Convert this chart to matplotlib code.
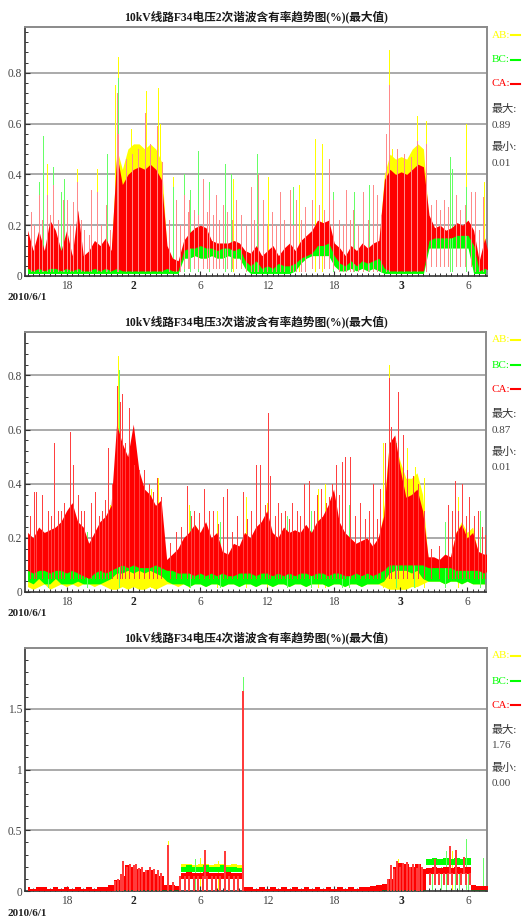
import numpy as np
import matplotlib
matplotlib.use('Agg')
import matplotlib.pyplot as plt
from matplotlib.lines import Line2D
from matplotlib.ticker import MultipleLocator, FixedLocator

plt.rcParams['font.family'] = ['Liberation Serif', 'Noto Sans CJK SC']

W, H = 531, 916
YEL, GRN, RED = '#ffff00', '#00ff00', '#ff0000'

# time axis: hours since 2010/6/1 00:00 (0.5 h grid)
hours = np.arange(14.5, 56.01, 0.5)
x_ticks = [18, 24, 30, 36, 42, 48, 54]
x_labels = ['18', '2', '6', '12', '18', '3', '6']
bold_labels = ['2', '3']

titles = ['10kV线路F34电压2次谐波含有率趋势图(%)(最大值)',
          '10kV线路F34电压3次谐波含有率趋势图(%)(最大值)',
          '10kV线路F34电压4次谐波含有率趋势图(%)(最大值)']
max_vals = ['0.89', '0.87', '1.76']
min_vals = ['0.01', '0.01', '0.00']
series_names = ['AB:', 'BC:', 'CA:']

# ---------------- panel 1 : 2nd harmonic ----------------
p1_red_hi = [0.18, 0.10, 0.18, 0.10, 0.22, 0.18, 0.10, 0.18,
             0.08, 0.26, 0.08, 0.10, 0.14, 0.12, 0.15, 0.10,
             0.48, 0.36, 0.40, 0.42, 0.43, 0.42, 0.44, 0.42,
             0.38, 0.12, 0.07, 0.06, 0.14, 0.17, 0.19, 0.20,
             0.19, 0.14, 0.13, 0.13, 0.13, 0.14, 0.13, 0.10,
             0.09, 0.12, 0.08, 0.10, 0.12, 0.08, 0.11, 0.13,
             0.10, 0.14, 0.16, 0.18, 0.22, 0.21, 0.22, 0.13,
             0.11, 0.08, 0.12, 0.10, 0.13, 0.11, 0.13, 0.14,
             0.38, 0.42, 0.40, 0.41, 0.40, 0.42, 0.44, 0.43,
             0.24, 0.19, 0.20, 0.18, 0.19, 0.21, 0.20, 0.22,
             0.18, 0.06, 0.15, 0.05]
p1_red_lo = [0.03, 0.02, 0.03, 0.02, 0.03, 0.03, 0.02, 0.03,
             0.02, 0.03, 0.02, 0.02, 0.03, 0.02, 0.03, 0.02,
             0.03, 0.02, 0.02, 0.02, 0.02, 0.02, 0.02, 0.02,
             0.02, 0.03, 0.02, 0.02, 0.10, 0.11, 0.11, 0.12,
             0.11, 0.11, 0.10, 0.11, 0.11, 0.10, 0.11, 0.06,
             0.04, 0.06, 0.03, 0.04, 0.03, 0.05, 0.04, 0.04,
             0.05, 0.07, 0.08, 0.09, 0.12, 0.12, 0.13, 0.08,
             0.05, 0.04, 0.06, 0.04, 0.06, 0.05, 0.06, 0.07,
             0.03, 0.02, 0.02, 0.02, 0.02, 0.02, 0.02, 0.02,
             0.14, 0.15, 0.15, 0.15, 0.15, 0.16, 0.16, 0.16,
             0.12, 0.02, 0.03, 0.02]
p1_yel_hi = [0.12, 0.08, 0.14, 0.08, 0.15, 0.12, 0.08, 0.12,
             0.07, 0.20, 0.07, 0.08, 0.12, 0.10, 0.12, 0.08,
             0.50, 0.42, 0.50, 0.52, 0.52, 0.50, 0.52, 0.50,
             0.45, 0.10, 0.06, 0.05, 0.12, 0.14, 0.16, 0.16,
             0.16, 0.12, 0.12, 0.12, 0.12, 0.12, 0.12, 0.08,
             0.07, 0.10, 0.07, 0.08, 0.10, 0.07, 0.09, 0.11,
             0.08, 0.12, 0.14, 0.16, 0.19, 0.18, 0.19, 0.11,
             0.09, 0.07, 0.10, 0.08, 0.11, 0.09, 0.11, 0.12,
             0.40, 0.48, 0.46, 0.47, 0.46, 0.50, 0.52, 0.50,
             0.21, 0.17, 0.18, 0.16, 0.17, 0.19, 0.18, 0.20,
             0.15, 0.05, 0.12, 0.04]
p1_yel_lo = ([0.02] * 28 + [0.08] * 12 + [0.02] * 8
             + [0.03, 0.06, 0.08, 0.09, 0.09, 0.09, 0.09, 0.05]
             + [0.03] * 8 + [0.02] * 8 + [0.12] * 8 + [0.02] * 4)
p1_grn_hi = [0.10, 0.06, 0.12, 0.06, 0.12, 0.10, 0.06, 0.10,
             0.06, 0.15, 0.06, 0.07, 0.10, 0.08, 0.10, 0.07,
             0.40, 0.30, 0.30, 0.32, 0.30, 0.30, 0.32, 0.30,
             0.25, 0.08, 0.05, 0.04, 0.12, 0.13, 0.14, 0.14,
             0.14, 0.12, 0.12, 0.12, 0.12, 0.12, 0.12, 0.08,
             0.07, 0.09, 0.07, 0.07, 0.09, 0.06, 0.08, 0.09,
             0.07, 0.10, 0.12, 0.14, 0.16, 0.15, 0.16, 0.10,
             0.08, 0.06, 0.09, 0.07, 0.10, 0.08, 0.10, 0.10,
             0.30, 0.30, 0.30, 0.30, 0.30, 0.30, 0.30, 0.30,
             0.17, 0.16, 0.17, 0.15, 0.16, 0.17, 0.17, 0.18,
             0.12, 0.04, 0.10, 0.04]
p1_grn_lo = [0.01, 0.01, 0.01, 0.01, 0.01, 0.01, 0.01, 0.01,
             0.01, 0.01, 0.01, 0.01, 0.01, 0.01, 0.01, 0.01,
             0.01, 0.01, 0.01, 0.01, 0.01, 0.01, 0.01, 0.01,
             0.01, 0.01, 0.01, 0.01, 0.07, 0.07, 0.08, 0.07,
             0.07, 0.08, 0.07, 0.07, 0.08, 0.07, 0.07, 0.03,
             0.01, 0.01, 0.01, 0.01, 0.01, 0.01, 0.01, 0.01,
             0.02, 0.05, 0.07, 0.08, 0.08, 0.08, 0.08, 0.04,
             0.02, 0.02, 0.03, 0.02, 0.03, 0.02, 0.03, 0.02,
             0.01, 0.01, 0.01, 0.01, 0.01, 0.01, 0.01, 0.01,
             0.11, 0.11, 0.11, 0.11, 0.11, 0.11, 0.11, 0.11,
             0.01, 0.01, 0.01, 0.01]
p1_red_spikes = [(14.8, 0.02, 0.25), (15.1, 0.02, 0.20), (15.5, 0.02, 0.32), (15.8, 0.02, 0.22),
                 (16.2, 0.02, 0.32), (16.5, 0.02, 0.24), (16.8, 0.02, 0.36), (17.2, 0.02, 0.22),
                 (17.7, 0.02, 0.30), (18.0, 0.02, 0.30), (18.3, 0.02, 0.20), (18.6, 0.02, 0.29),
                 (18.9, 0.02, 0.37), (19.3, 0.02, 0.22), (19.6, 0.02, 0.18), (20.0, 0.02, 0.16),
                 (20.2, 0.02, 0.34), (20.7, 0.02, 0.33), (21.1, 0.02, 0.20), (21.5, 0.02, 0.28),
                 (21.9, 0.02, 0.18), (22.5, 0.02, 0.72), (22.6, 0.02, 0.56), (23.3, 0.02, 0.46),
                 (23.9, 0.02, 0.48), (24.4, 0.02, 0.50), (25.0, 0.02, 0.64), (25.5, 0.02, 0.52),
                 (26.1, 0.02, 0.59), (26.6, 0.02, 0.45), (27.2, 0.02, 0.22), (27.8, 0.02, 0.30),
                 (28.2, 0.02, 0.20), (28.5, 0.03, 0.32), (28.9, 0.03, 0.25), (29.0, 0.03, 0.30),
                 (29.4, 0.03, 0.26), (29.8, 0.03, 0.24), (30.2, 0.03, 0.38), (30.6, 0.03, 0.25),
                 (30.8, 0.03, 0.30), (31.1, 0.03, 0.24), (31.4, 0.03, 0.32), (31.7, 0.03, 0.22),
                 (32.0, 0.03, 0.28), (32.4, 0.03, 0.25), (32.8, 0.03, 0.22), (33.2, 0.03, 0.30),
                 (33.6, 0.03, 0.24), (34.1, 0.02, 0.20), (34.5, 0.02, 0.35), (34.8, 0.02, 0.22),
                 (35.2, 0.02, 0.40), (35.6, 0.02, 0.30), (36.0, 0.02, 0.20), (36.4, 0.02, 0.25),
                 (36.8, 0.02, 0.20), (37.1, 0.02, 0.33), (37.5, 0.02, 0.22), (38.0, 0.02, 0.34),
                 (38.3, 0.02, 0.20), (38.6, 0.02, 0.30), (39.0, 0.02, 0.22), (39.4, 0.02, 0.27),
                 (40.0, 0.03, 0.30), (40.6, 0.03, 0.28), (41.1, 0.03, 0.26), (41.5, 0.03, 0.46),
                 (41.9, 0.03, 0.30), (42.4, 0.02, 0.22), (42.8, 0.02, 0.20), (43.1, 0.02, 0.34),
                 (43.4, 0.02, 0.22), (43.7, 0.02, 0.26), (44.1, 0.02, 0.20), (44.6, 0.02, 0.33),
                 (45.0, 0.02, 0.22), (45.5, 0.02, 0.36), (45.8, 0.02, 0.32), (46.2, 0.02, 0.24),
                 (46.6, 0.02, 0.56), (46.95, 0.02, 0.75), (47.6, 0.02, 0.50), (48.3, 0.02, 0.48),
                 (48.9, 0.02, 0.47), (49.4, 0.02, 0.53), (50.2, 0.02, 0.52), (50.7, 0.04, 0.28),
                 (51.1, 0.04, 0.30), (51.5, 0.04, 0.26), (51.8, 0.04, 0.30), (52.2, 0.04, 0.27),
                 (52.9, 0.04, 0.32), (53.3, 0.04, 0.26), (53.7, 0.04, 0.28), (54.3, 0.04, 0.33),
                 (54.6, 0.02, 0.33), (55.0, 0.02, 0.18), (55.3, 0.02, 0.31)]
p1_yel_spikes = [(16.2, 0.44), (18.9, 0.42), (20.7, 0.42), (22.3, 0.75), (22.6, 0.86), (23.8, 0.58),
                 (25.1, 0.73), (26.2, 0.74), (26.4, 0.60), (27.5, 0.39), (32.9, 0.38), (36.1, 0.39),
                 (38.8, 0.36), (40.3, 0.54), (40.9, 0.52), (46.95, 0.89), (47.2, 0.50), (49.4, 0.63),
                 (50.2, 0.61), (53.8, 0.60), (55.4, 0.37)]
p1_grn_spikes = [(15.5, 0.37), (15.9, 0.55), (16.8, 0.43), (17.5, 0.33), (17.8, 0.38), (21.6, 0.48),
                 (22.6, 0.78), (27.5, 0.35), (28.5, 0.40), (29.1, 0.34), (29.8, 0.49), (30.8, 0.37),
                 (32.2, 0.44), (32.7, 0.40), (35.1, 0.48), (38.3, 0.35), (41.9, 0.33), (43.8, 0.33),
                 (45.1, 0.36), (52.4, 0.47), (52.6, 0.42), (53.8, 0.35)]

# ---------------- panel 2 : 3rd harmonic ----------------
p2_red_hi = [0.22, 0.20, 0.24, 0.22, 0.23, 0.24, 0.26, 0.30,
             0.33, 0.26, 0.24, 0.18, 0.22, 0.26, 0.28, 0.32,
             0.62, 0.55, 0.50, 0.62, 0.45, 0.38, 0.36, 0.32,
             0.34, 0.12, 0.14, 0.16, 0.20, 0.22, 0.25, 0.22,
             0.26, 0.20, 0.22, 0.15, 0.14, 0.18, 0.17, 0.22,
             0.20, 0.24, 0.26, 0.30, 0.22, 0.20, 0.24, 0.22,
             0.23, 0.22, 0.25, 0.22, 0.26, 0.28, 0.32, 0.38,
             0.26, 0.22, 0.20, 0.18, 0.19, 0.20, 0.17, 0.20,
             0.28, 0.55, 0.58, 0.45, 0.35, 0.36, 0.38, 0.30,
             0.13, 0.13, 0.12, 0.14, 0.13, 0.22, 0.25, 0.20,
             0.22, 0.15, 0.14, 0.14]
p2_red_lo = [0.08, 0.07, 0.08, 0.08, 0.07, 0.08, 0.08, 0.07,
             0.08, 0.07, 0.06, 0.05, 0.07, 0.08, 0.07, 0.08,
             0.09, 0.10, 0.09, 0.10, 0.09, 0.09, 0.09, 0.10,
             0.09, 0.08, 0.08, 0.07, 0.07, 0.07, 0.06, 0.07,
             0.06, 0.07, 0.06, 0.07, 0.06, 0.06, 0.07, 0.07,
             0.07, 0.06, 0.07, 0.07, 0.06, 0.07, 0.06, 0.07,
             0.06, 0.07, 0.07, 0.06, 0.07, 0.07, 0.06, 0.07,
             0.07, 0.06, 0.06, 0.07, 0.06, 0.07, 0.06, 0.07,
             0.08, 0.10, 0.10, 0.10, 0.10, 0.10, 0.10, 0.10,
             0.09, 0.09, 0.09, 0.09, 0.09, 0.08, 0.08, 0.08,
             0.08, 0.08, 0.07, 0.08]
p2_yel_hi = [0.10, 0.10, 0.12, 0.10, 0.12, 0.12, 0.14, 0.16,
             0.16, 0.12, 0.12, 0.10, 0.12, 0.14, 0.14, 0.18,
             0.50, 0.45, 0.40, 0.50, 0.38, 0.32, 0.30, 0.28,
             0.30, 0.08, 0.10, 0.12, 0.16, 0.20, 0.25, 0.22,
             0.24, 0.16, 0.18, 0.12, 0.12, 0.15, 0.14, 0.22,
             0.16, 0.20, 0.22, 0.24, 0.18, 0.16, 0.20, 0.18,
             0.20, 0.20, 0.24, 0.20, 0.24, 0.26, 0.30, 0.34,
             0.22, 0.18, 0.16, 0.15, 0.16, 0.17, 0.15, 0.18,
             0.30, 0.55, 0.55, 0.48, 0.42, 0.42, 0.44, 0.36,
             0.12, 0.12, 0.11, 0.13, 0.12, 0.22, 0.26, 0.22,
             0.24, 0.14, 0.12, 0.14]
p2_yel_lo = [0.02, 0.01, 0.02, 0.03, 0.01, 0.02, 0.03, 0.02,
             0.03, 0.02, 0.03, 0.03, 0.02, 0.03, 0.02, 0.01,
             0.01, 0.02, 0.01, 0.02, 0.01, 0.01, 0.02, 0.01,
             0.02, 0.03, 0.03, 0.02, 0.03, 0.02, 0.03, 0.03,
             0.02, 0.03, 0.03, 0.02, 0.03, 0.03, 0.02, 0.03,
             0.03, 0.02, 0.03, 0.03, 0.02, 0.03, 0.03, 0.02,
             0.03, 0.03, 0.02, 0.03, 0.03, 0.03, 0.02, 0.03,
             0.03, 0.02, 0.03, 0.03, 0.02, 0.03, 0.03, 0.03,
             0.02, 0.01, 0.01, 0.01, 0.01, 0.02, 0.02, 0.03,
             0.04, 0.04, 0.04, 0.03, 0.04, 0.04, 0.03, 0.04,
             0.03, 0.03, 0.03, 0.02]
p2_grn_hi = [0.10, 0.09, 0.11, 0.10, 0.10, 0.11, 0.10, 0.12,
             0.11, 0.10, 0.09, 0.08, 0.10, 0.11, 0.10, 0.11,
             0.12, 0.12, 0.11, 0.12, 0.12, 0.11, 0.12, 0.11,
             0.11, 0.09, 0.10, 0.10, 0.11, 0.12, 0.11, 0.10,
             0.11, 0.10, 0.10, 0.09, 0.10, 0.10, 0.11, 0.10,
             0.10, 0.11, 0.10, 0.12, 0.10, 0.10, 0.11, 0.10,
             0.10, 0.10, 0.11, 0.10, 0.12, 0.12, 0.11, 0.12,
             0.10, 0.10, 0.09, 0.10, 0.10, 0.10, 0.09, 0.10,
             0.11, 0.12, 0.12, 0.12, 0.12, 0.12, 0.12, 0.12,
             0.10, 0.10, 0.10, 0.10, 0.10, 0.10, 0.10, 0.10,
             0.10, 0.10, 0.10, 0.10]
p2_grn_lo = [0.04, 0.03, 0.05, 0.03, 0.03, 0.05, 0.03, 0.03,
             0.03, 0.04, 0.03, 0.03, 0.03, 0.03, 0.04, 0.05,
             0.07, 0.07, 0.08, 0.07, 0.08, 0.07, 0.08, 0.07,
             0.06, 0.04, 0.03, 0.03, 0.03, 0.02, 0.03, 0.03,
             0.02, 0.03, 0.03, 0.02, 0.03, 0.03, 0.02, 0.03,
             0.03, 0.02, 0.03, 0.03, 0.02, 0.03, 0.03, 0.02,
             0.03, 0.03, 0.02, 0.03, 0.03, 0.03, 0.02, 0.03,
             0.03, 0.02, 0.03, 0.03, 0.02, 0.03, 0.03, 0.03,
             0.04, 0.07, 0.08, 0.08, 0.08, 0.07, 0.08, 0.05,
             0.04, 0.04, 0.04, 0.03, 0.04, 0.04, 0.03, 0.04,
             0.03, 0.03, 0.03, 0.03]
p2_red_spikes = [(14.7, 0.05, 0.28), (15.1, 0.05, 0.37), (15.3, 0.05, 0.37), (15.8, 0.05, 0.36),
                 (16.3, 0.05, 0.30), (16.6, 0.05, 0.28), (16.9, 0.05, 0.55), (17.2, 0.05, 0.30),
                 (17.5, 0.05, 0.30), (17.8, 0.05, 0.33), (18.3, 0.05, 0.59), (18.6, 0.05, 0.47),
                 (19.0, 0.05, 0.36), (19.3, 0.05, 0.30), (19.6, 0.05, 0.30), (20.2, 0.05, 0.33),
                 (20.6, 0.05, 0.37), (20.9, 0.05, 0.28), (21.2, 0.05, 0.30), (21.5, 0.05, 0.34),
                 (21.7, 0.05, 0.53), (22.1, 0.05, 0.40), (22.5, 0.05, 0.76), (22.8, 0.05, 0.70),
                 (23.0, 0.05, 0.73), (23.3, 0.05, 0.55), (23.6, 0.05, 0.68), (24.1, 0.05, 0.47),
                 (24.5, 0.05, 0.45), (25.0, 0.05, 0.45), (25.4, 0.05, 0.40), (25.8, 0.05, 0.37),
                 (26.1, 0.05, 0.42), (26.5, 0.05, 0.35), (27.3, 0.05, 0.18), (27.8, 0.05, 0.22),
                 (28.3, 0.05, 0.24), (28.8, 0.05, 0.39), (29.2, 0.05, 0.28), (29.5, 0.05, 0.30),
                 (29.9, 0.05, 0.29), (30.4, 0.05, 0.38), (30.8, 0.05, 0.30), (31.2, 0.05, 0.30),
                 (31.6, 0.05, 0.25), (32.1, 0.05, 0.35), (32.4, 0.05, 0.38), (32.9, 0.05, 0.22),
                 (33.3, 0.05, 0.28), (33.9, 0.05, 0.37), (34.2, 0.05, 0.27), (34.6, 0.05, 0.30),
                 (35.0, 0.05, 0.47), (35.4, 0.05, 0.47), (35.8, 0.05, 0.32), (36.1, 0.05, 0.66),
                 (36.3, 0.05, 0.43), (36.7, 0.05, 0.28), (37.0, 0.05, 0.33), (37.3, 0.05, 0.29),
                 (37.6, 0.05, 0.30), (38.0, 0.05, 0.27), (38.3, 0.05, 0.33), (38.7, 0.05, 0.30),
                 (39.0, 0.05, 0.28), (39.3, 0.05, 0.40), (39.8, 0.05, 0.41), (40.2, 0.05, 0.30),
                 (40.5, 0.05, 0.36), (40.9, 0.05, 0.38), (41.3, 0.05, 0.33), (41.6, 0.05, 0.35),
                 (41.9, 0.05, 0.40), (42.2, 0.05, 0.47), (42.5, 0.05, 0.36), (42.8, 0.05, 0.48),
                 (43.0, 0.05, 0.50), (43.5, 0.05, 0.50), (43.9, 0.05, 0.28), (44.4, 0.05, 0.33),
                 (44.8, 0.05, 0.27), (45.2, 0.05, 0.30), (45.5, 0.05, 0.40), (45.9, 0.05, 0.27),
                 (46.2, 0.05, 0.38), (46.6, 0.05, 0.55), (46.95, 0.05, 0.79), (47.2, 0.05, 0.61),
                 (47.5, 0.05, 0.57), (47.8, 0.05, 0.74), (48.2, 0.05, 0.58), (48.6, 0.05, 0.45),
                 (49.1, 0.05, 0.43), (49.6, 0.05, 0.40), (50.1, 0.05, 0.30), (50.8, 0.05, 0.16),
                 (51.5, 0.05, 0.17), (52.3, 0.05, 0.32), (52.6, 0.05, 0.30), (52.9, 0.05, 0.41),
                 (53.2, 0.05, 0.30), (53.5, 0.05, 0.40), (53.9, 0.05, 0.28), (54.2, 0.05, 0.35),
                 (54.6, 0.05, 0.28), (55.0, 0.05, 0.30), (55.3, 0.05, 0.24), (55.6, 0.05, 0.21)]
p2_yel_spikes = [(21.9, 0.32), (22.65, 0.87), (23.8, 0.40), (25.6, 0.38), (26.2, 0.42), (29.0, 0.32),
                 (31.5, 0.30), (34.1, 0.35), (36.0, 0.33), (40.6, 0.38), (41.2, 0.40), (42.8, 0.39),
                 (46.4, 0.55), (46.95, 0.84), (48.1, 0.45), (48.6, 0.53), (49.3, 0.46), (50.1, 0.42),
                 (53.2, 0.35), (55.6, 0.23)]
p2_grn_spikes = [(16.3, 0.25), (19.8, 0.22), (22.7, 0.82), (29.1, 0.30), (31.8, 0.26), (37.8, 0.28),
                 (40.0, 0.30), (42.8, 0.35), (43.4, 0.32), (47.6, 0.55), (49.2, 0.35), (52.0, 0.26),
                 (55.2, 0.30)]

# ---------------- panel 3 : 4th harmonic ----------------
p3_red_hi = [0.03, 0.02, 0.03, 0.03, 0.02, 0.03, 0.02, 0.03,
             0.02, 0.03, 0.02, 0.03, 0.02, 0.03, 0.03, 0.05,
             0.09, 0.12, 0.21, 0.20, 0.18, 0.16, 0.17, 0.14,
             0.12, 0.05, 0.05, 0.04, 0.15, 0.16, 0.15, 0.15,
             0.16, 0.15, 0.15, 0.15, 0.16, 0.15, 0.15, 0.03,
             0.03, 0.02, 0.03, 0.02, 0.03, 0.02, 0.03, 0.02,
             0.03, 0.02, 0.03, 0.02, 0.03, 0.02, 0.03, 0.02,
             0.03, 0.02, 0.03, 0.02, 0.03, 0.03, 0.04, 0.05,
             0.06, 0.10, 0.20, 0.23, 0.22, 0.20, 0.22, 0.18,
             0.19, 0.20, 0.19, 0.20, 0.19, 0.20, 0.19, 0.20,
             0.05, 0.04, 0.04, 0.04]
p3_red_lo = [0.0] * 16 + [0.01] * 12 + [0.10] * 11 + [0.0] * 25 + [0.01] * 8 + [0.14] * 8 + [0.01] * 4
p3_yel_hi = ([0.02] * 16
             + [0.06, 0.08, 0.10, 0.10, 0.09, 0.08, 0.08, 0.07,
                0.06, 0.03, 0.03, 0.03, 0.22, 0.22, 0.21, 0.22,
                0.22, 0.21, 0.22, 0.22, 0.21, 0.22, 0.21, 0.02]
             + [0.02] * 24
             + [0.03, 0.07, 0.12, 0.14, 0.13, 0.12, 0.14, 0.12,
                0.25, 0.25, 0.25, 0.25, 0.25, 0.25, 0.25, 0.25,
                0.04, 0.03, 0.03, 0.03])
p3_yel_lo = [0.0] * 28 + [0.17] * 11 + [0.0] * 33 + [0.21] * 8 + [0.0] * 4
p3_grn_hi = ([0.02] * 16
             + [0.06, 0.08, 0.10, 0.10, 0.09, 0.08, 0.08, 0.07,
                0.06, 0.03, 0.03, 0.03, 0.20, 0.21, 0.20, 0.20,
                0.21, 0.20, 0.20, 0.21, 0.20, 0.20, 0.19, 0.02]
             + [0.02] * 24
             + [0.03, 0.06, 0.10, 0.12, 0.12, 0.10, 0.12, 0.10,
                0.26, 0.27, 0.26, 0.27, 0.26, 0.27, 0.26, 0.27,
                0.05, 0.04, 0.04, 0.05])
p3_grn_lo = [0.0] * 28 + [0.16] * 11 + [0.0] * 33 + [0.21] * 8 + [0.0] * 4
p3_red_spikes = [(22.3, 0.0, 0.08), (22.6, 0.0, 0.10), (22.9, 0.0, 0.14), (23.1, 0.0, 0.25),
                 (23.4, 0.0, 0.20), (23.7, 0.0, 0.22), (24.0, 0.0, 0.21), (24.2, 0.0, 0.22),
                 (24.5, 0.0, 0.19), (24.8, 0.0, 0.20), (25.1, 0.0, 0.17), (25.5, 0.0, 0.20),
                 (25.8, 0.0, 0.18), (26.2, 0.0, 0.17), (26.5, 0.0, 0.15), (27.1, 0.0, 0.38),
                 (27.5, 0.0, 0.07), (28.2, 0.0, 0.12), (28.6, 0.0, 0.12), (29.0, 0.0, 0.12),
                 (29.4, 0.0, 0.12), (29.8, 0.0, 0.12), (30.2, 0.0, 0.12), (30.4, 0.10, 0.34),
                 (30.6, 0.0, 0.12), (31.0, 0.0, 0.12), (31.4, 0.0, 0.12), (31.8, 0.0, 0.12),
                 (32.2, 0.0, 0.33), (32.6, 0.0, 0.12), (33.0, 0.0, 0.12), (33.4, 0.0, 0.12),
                 (33.8, 0.0, 1.65), (46.8, 0.0, 0.10), (47.1, 0.0, 0.21), (47.4, 0.0, 0.18),
                 (47.6, 0.0, 0.25), (47.9, 0.0, 0.20), (48.2, 0.0, 0.23), (48.5, 0.0, 0.24),
                 (48.8, 0.0, 0.20), (49.1, 0.0, 0.22), (49.4, 0.0, 0.19), (49.6, 0.0, 0.22),
                 (49.9, 0.0, 0.20), (50.6, 0.05, 0.15), (51.0, 0.05, 0.26), (51.4, 0.05, 0.15),
                 (51.8, 0.05, 0.15), (52.2, 0.05, 0.15), (52.4, 0.14, 0.37), (52.6, 0.05, 0.15),
                 (52.9, 0.14, 0.34), (53.0, 0.05, 0.15), (53.4, 0.05, 0.15), (53.6, 0.14, 0.28),
                 (53.8, 0.05, 0.15), (54.2, 0.05, 0.15)]
p3_yel_spikes = [(23.0, 0.22), (27.1, 0.41), (30.0, 0.27), (31.6, 0.25), (47.7, 0.26), (52.6, 0.33)]
p3_grn_spikes = [(29.5, 0.26), (33.8, 1.76), (50.8, 0.20), (51.6, 0.20), (52.0, 0.33), (52.8, 0.30),
                 (53.2, 0.20), (53.8, 0.43), (54.0, 0.20), (55.3, 0.27), (55.65, 0.15)]

panels = [
    dict(red_hi=p1_red_hi, red_lo=p1_red_lo, yel_hi=p1_yel_hi, yel_lo=p1_yel_lo,
         grn_hi=p1_grn_hi, grn_lo=p1_grn_lo, red_sp=p1_red_spikes, yel_sp=p1_yel_spikes,
         grn_sp=p1_grn_spikes, ymax=0.98, yticks=[0, 0.2, 0.4, 0.6, 0.8],
         ylabels=['0', '0.2', '0.4', '0.6', '0.8'], yminor=0.04, step=None,
         spike_red='#ff8a8a', spike_px=1.0, box=(25, 27, 487, 276)),
    dict(red_hi=p2_red_hi, red_lo=p2_red_lo, yel_hi=p2_yel_hi, yel_lo=p2_yel_lo,
         grn_hi=p2_grn_hi, grn_lo=p2_grn_lo, red_sp=p2_red_spikes, yel_sp=p2_yel_spikes,
         grn_sp=p2_grn_spikes, ymax=0.96, yticks=[0, 0.2, 0.4, 0.6, 0.8],
         ylabels=['0', '0.2', '0.4', '0.6', '0.8'], yminor=0.04, step=None,
         spike_red='#ff4040', spike_px=1.0, box=(25, 332, 486, 592)),
    dict(red_hi=p3_red_hi, red_lo=p3_red_lo, yel_hi=p3_yel_hi, yel_lo=p3_yel_lo,
         grn_hi=p3_grn_hi, grn_lo=p3_grn_lo, red_sp=p3_red_spikes, yel_sp=p3_yel_spikes,
         grn_sp=p3_grn_spikes, ymax=2.0, yticks=[0, 0.5, 1, 1.5],
         ylabels=['0', '0.5', '1', '1.5'], yminor=0.1, step='mid',
         spike_red='#ff3c3c', spike_px=1.8, box=(25, 648, 487, 891)),
]

fig = plt.figure(figsize=(W / 100, H / 100), dpi=100)

legend_offsets = [8, 33, 57, 82, 98, 120, 136]
legend_colors = [YEL, GRN, RED]
PX = 0.72  # one pixel in points at 100 dpi

for i, p in enumerate(panels):
    l, t, r, b = p['box']
    ax = fig.add_axes([l / W, 1 - b / H, (r - l) / W, (b - t) / H])
    kw = {'step': p['step']} if p['step'] else {}
    for yv in p['yticks'][1:]:
        ax.axhline(yv, color='#a4a4a4', lw=1.3, zorder=0)
    # AB (yellow)
    ax.fill_between(hours, p['yel_lo'], p['yel_hi'], color=YEL, lw=0, zorder=1, **kw)
    ax.vlines([s[0] for s in p['yel_sp']], 0.02, [s[1] for s in p['yel_sp']],
              color=YEL, lw=PX, zorder=1, antialiased=False)
    # BC (green)
    ax.fill_between(hours, p['grn_lo'], p['grn_hi'], color=GRN, lw=0, zorder=2, **kw)
    ax.vlines([s[0] for s in p['grn_sp']], 0.02, [s[1] for s in p['grn_sp']],
              color='#66ff66', lw=PX, zorder=2, antialiased=False)
    # CA (red)
    ax.fill_between(hours, p['red_lo'], p['red_hi'], color=RED, lw=0, zorder=3, **kw)
    ax.vlines([s[0] for s in p['red_sp']], [s[1] for s in p['red_sp']],
              [s[2] for s in p['red_sp']], color=p['spike_red'], lw=PX * p['spike_px'],
              zorder=3, antialiased=False)

    ax.set_xlim(14.27, 55.7)
    ax.set_ylim(0, p['ymax'])
    ax.xaxis.set_major_locator(FixedLocator(x_ticks))
    ax.set_xticklabels(x_labels)
    ax.xaxis.set_minor_locator(MultipleLocator(0.5))
    ax.yaxis.set_major_locator(FixedLocator(p['yticks']))
    ax.set_yticklabels(p['ylabels'])
    ax.yaxis.set_minor_locator(MultipleLocator(p['yminor']))
    ax.tick_params(axis='both', which='both', direction='in', colors='#333333',
                   labelcolor='#444444', labelsize=8.3)
    ax.tick_params(axis='both', which='major', length=3.5, width=0.8)
    ax.tick_params(axis='both', which='minor', length=2.5, width=0.7)
    ax.tick_params(axis='y', pad=2)
    ax.tick_params(axis='x', pad=3)
    for lab in ax.get_xticklabels():
        if lab.get_text() in bold_labels:
            lab.set_fontweight('bold')
            lab.set_color('#222222')
    for side in ['left', 'bottom']:
        ax.spines[side].set_color('#333333')
        ax.spines[side].set_linewidth(1.2)
    for side in ['top', 'right']:
        ax.spines[side].set_color('#8a8a8a')
        ax.spines[side].set_linewidth(1.4)

    fig.text(256 / W, 1 - (t - 10) / H, titles[i], ha='center', va='center',
             fontsize=8.4, color='#1a1a1a', fontweight='bold')
    fig.text(8 / W, 1 - (b + 22) / H, '2010/6/1', ha='left', va='center',
             fontsize=8, fontweight='bold', color='#222222')
    for k in range(3):
        yy = 1 - (t + legend_offsets[k]) / H
        fig.text(492 / W, yy, series_names[k], ha='left', va='center', fontsize=8,
                 color=legend_colors[k])
        fig.add_artist(Line2D([511 / W, 520 / W], [yy, yy], color=legend_colors[k],
                              lw=1.5, transform=fig.transFigure))
    fig.text(492 / W, 1 - (t + legend_offsets[3]) / H, '最大:', ha='left', va='center',
             fontsize=8, color='#333333')
    fig.text(492 / W, 1 - (t + legend_offsets[4]) / H, max_vals[i], ha='left', va='center',
             fontsize=8, color='#444444')
    fig.text(492 / W, 1 - (t + legend_offsets[5]) / H, '最小:', ha='left', va='center',
             fontsize=8, color='#333333')
    fig.text(492 / W, 1 - (t + legend_offsets[6]) / H, min_vals[i], ha='left', va='center',
             fontsize=8, color='#444444')

fig.savefig('out.png', dpi=100)
